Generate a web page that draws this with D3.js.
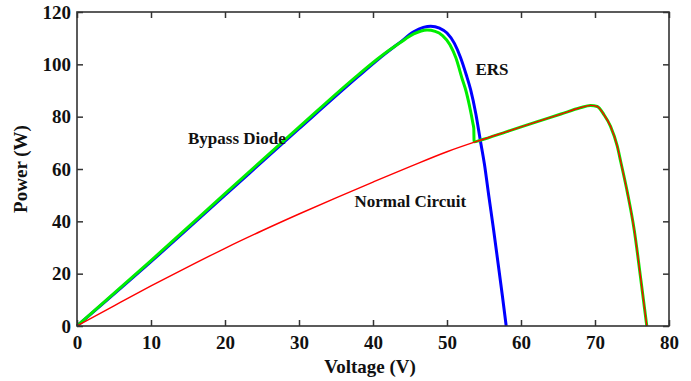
<!DOCTYPE html>
<html>
<head>
<meta charset="utf-8">
<script src="https://cdn.jsdelivr.net/npm/d3@7"></script>
<style>
  html, body { margin: 0; padding: 0; background: #fff; }
  svg { display: block; }
  text { font-family: "Liberation Serif", "Times New Roman", serif; font-weight: bold; fill: #111; }
</style>
</head>
<body>
<svg id="chart" width="691" height="381"></svg>
<script>
// ---- data ----
const xTicks = [0, 10, 20, 30, 40, 50, 60, 70, 80];
const yTicks = [0, 20, 40, 60, 80, 100, 120];

// ERS (blue)
const ersV = [0, 10, 20, 30, 38, 41, 43.7, 45.5, 46.8, 47.8, 49.0, 50.0, 51.0, 51.8, 52.6, 53.2, 53.9, 54.5, 55.05, 55.66, 56.3, 56.9, 57.5, 58.0];
const ersP = [0, 24.6, 50.0, 75.4, 95.4, 102.6, 108.5, 112.4, 114.1, 114.6, 113.8, 112.0, 108.0, 102.8, 96.0, 90.2, 81.0, 71.0, 62.0, 49.5, 36.7, 24.0, 11.2, 0];

// Bypass Diode (green)
const bypassV = [0, 10, 20, 30, 38, 41, 43.7, 45.5, 47.3, 48.4, 49.4, 50.4, 51.2, 52.1, 52.55, 53.05, 53.5, 53.62, 53.66, 54.5, 58, 62, 65.4, 68, 69.4, 70.3, 71.2, 72.1, 73.0, 73.5, 74.4, 75.3, 76.2, 77.0];
const bypassP = [0, 25.0, 50.6, 76.0, 96.0, 102.9, 108.3, 111.6, 113.1, 112.6, 111.0, 107.5, 102.5, 94.0, 90.0, 84.0, 77.5, 75.5, 70.4, 71.0, 74.2, 77.9, 81.0, 83.4, 84.3, 83.9, 80.8, 76.3, 68.8, 62.5, 50.7, 36.7, 17.6, 0];

// Normal Circuit (red)
const normalV = [0, 5, 10, 15, 20, 25, 30, 35, 40, 45, 50, 54.5, 58, 62, 65.4, 68, 69.4, 70.3, 71.2, 72.1, 73.0, 73.5, 74.4, 75.3, 76.2, 77.0];
const normalP = [0, 7.7, 15.3, 22.6, 29.7, 36.4, 42.8, 49.0, 55.0, 60.9, 66.6, 71.0, 74.2, 77.9, 81.0, 83.4, 84.3, 83.9, 80.8, 76.3, 68.8, 62.5, 50.7, 36.7, 17.6, 0];

const labels = [
  { text: "Bypass Diode", v: 15.0, p: 69.5 },
  { text: "ERS", v: 53.85, p: 96.0 },
  { text: "Normal Circuit", v: 37.5, p: 45.5 }
];

// ---- drawing ----
const svg = d3.select("#chart");
const x = d3.scaleLinear().domain([0, 80]).range([77, 669]);
const y = d3.scaleLinear().domain([0, 120]).range([326, 12]);

const line = d3.line().x(d => x(d[0])).y(d => y(d[1])).curve(d3.curveMonotoneX);
const zip = (a, b) => a.map((v, i) => [v, b[i]]);

const plot = svg.append("g");
plot.append("path").datum(zip(ersV, ersP)).attr("d", line)
  .attr("fill", "none").attr("stroke", "#0000ff").attr("stroke-width", 3).attr("stroke-linejoin", "round");
plot.append("path").datum(zip(bypassV, bypassP)).attr("d", line)
  .attr("fill", "none").attr("stroke", "#00ee00").attr("stroke-width", 3).attr("stroke-linejoin", "round");
plot.append("path").datum(zip(normalV, normalP)).attr("d", line)
  .attr("fill", "none").attr("stroke", "#ff0000").attr("stroke-width", 1.4).attr("stroke-linejoin", "round");

// axes
const fs = "19px";
const gx = svg.append("g").attr("transform", `translate(0,${y(0)})`)
  .call(d3.axisBottom(x).tickValues(xTicks).tickSizeInner(-6).tickSizeOuter(0).tickPadding(10));
const gy = svg.append("g").attr("transform", `translate(${x(0)},0)`)
  .call(d3.axisLeft(y).tickValues(yTicks).tickSizeInner(-6).tickSizeOuter(0).tickPadding(6));
const gt = svg.append("g").attr("transform", `translate(0,${y(120)})`)
  .call(d3.axisTop(x).tickValues(xTicks).tickSizeInner(-6).tickSizeOuter(0).tickFormat(""));
const gr = svg.append("g").attr("transform", `translate(${x(80)},0)`)
  .call(d3.axisRight(y).tickValues(yTicks).tickSizeInner(-6).tickSizeOuter(0).tickFormat(""));

[gx, gy, gt, gr].forEach(g => {
  g.select(".domain").remove();
  g.selectAll(".tick line").attr("stroke", "#333").attr("stroke-width", 1.5);
  g.selectAll(".tick text").attr("fill", "#111").style("font-size", fs)
    .style("font-family", '"Liberation Serif", "Times New Roman", serif').style("font-weight", "bold");
});

// frame
svg.append("rect").attr("x", x(0)).attr("y", y(120))
  .attr("width", x(80) - x(0)).attr("height", y(0) - y(120))
  .attr("fill", "none").attr("stroke", "#333").attr("stroke-width", 1.6);

// axis titles
svg.append("text").attr("x", 370).attr("y", 373).attr("text-anchor", "middle")
  .style("font-size", "19px").text("Voltage (V)");
svg.append("text").attr("transform", `translate(27,${(y(0) + y(120)) / 2}) rotate(-90)`)
  .attr("text-anchor", "middle").style("font-size", "19px").text("Power (W)");

// annotations
svg.selectAll("text.ann").data(labels).join("text").attr("class", "ann")
  .attr("x", d => x(d.v)).attr("y", d => y(d.p))
  .style("font-size", "17px").text(d => d.text);
</script>
</body>
</html>
